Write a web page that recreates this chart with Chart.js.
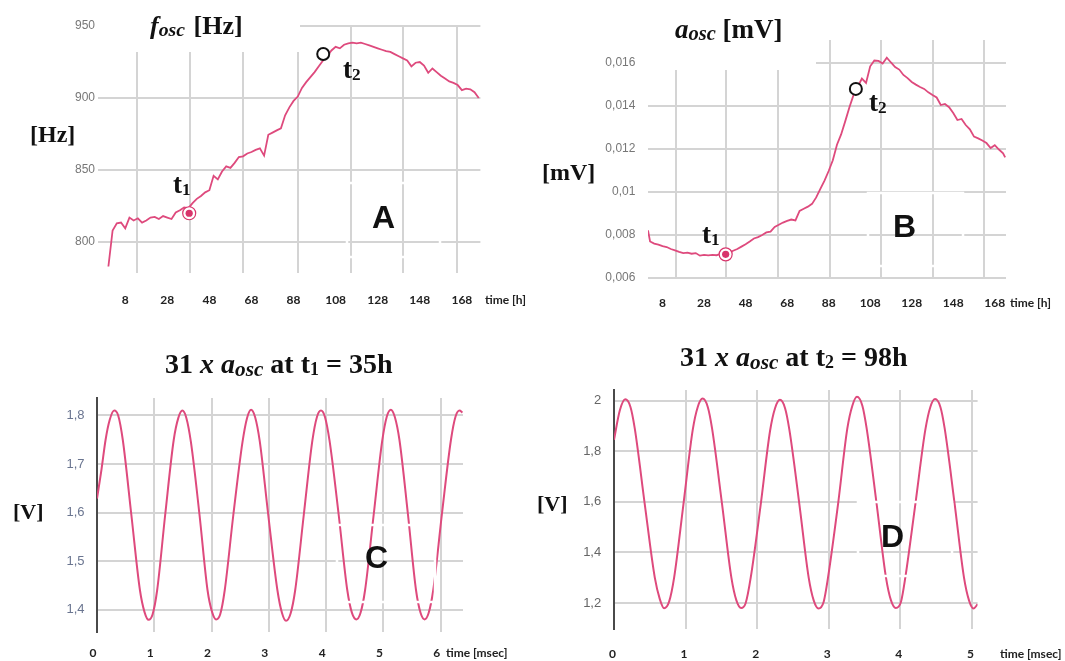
<!DOCTYPE html>
<html>
<head>
<meta charset="utf-8">
<title>Oscillator drift</title>
<script src="https://cdn.jsdelivr.net/npm/chart.js@4.4.1/dist/chart.umd.min.js"></script>
<style>
  body { margin:0; background:#fff; }
  #page { position:relative; width:1065px; height:661px; overflow:hidden; background:#fff; }
  canvas { position:absolute; }
  .lbl { position:absolute; white-space:nowrap; line-height:1; font-family:"Liberation Serif","Times New Roman",serif; font-weight:bold; color:#111; z-index:2; }
  .lbl sub { font-size:0.76em; vertical-align:-0.12em; line-height:0; }
  .lbl sub.n { font-size:0.64em; vertical-align:-0.1em; }
  .tag { position:absolute; line-height:1; font-family:"Liberation Sans",Arial,sans-serif; font-weight:bold; font-size:32px; color:#111; z-index:2; }
  .unit { position:absolute; white-space:nowrap; line-height:14px; font-family:Lato,"Liberation Sans",sans-serif; font-weight:bold; font-size:12px; color:#222; z-index:2; }
</style>
</head>
<body>
<div id="page">
  <canvas id="chartA" width="530" height="320" style="left:0;top:0"></canvas>
  <canvas id="chartB" width="535" height="320" style="left:530px;top:0"></canvas>
  <canvas id="chartC" width="530" height="331" style="left:0;top:330px"></canvas>
  <canvas id="chartD" width="535" height="331" style="left:530px;top:330px"></canvas>

  <!-- panel A -->
  <div class="lbl" style="left:150px;top:13px;font-size:26px"><i>f</i><sub><i>osc</i></sub> <span style="margin-left:2px">[Hz]</span></div>
  <div class="lbl" style="left:30px;top:122px;font-size:24px">[Hz]</div>
  <div class="lbl" style="left:173px;top:171px;font-size:27px">t<sub class="n">1</sub></div>
  <div class="lbl" style="left:343px;top:56px;font-size:27px">t<sub class="n">2</sub></div>
  <div class="tag" style="left:372px;top:201px">A</div>
  <div class="unit" style="left:485px;top:293px">time [h]</div>

  <!-- panel B -->
  <div class="lbl" style="left:675px;top:16px;font-size:27px"><i>a</i><sub><i>osc</i></sub> [mV]</div>
  <div class="lbl" style="left:542px;top:160px;font-size:24px">[mV]</div>
  <div class="lbl" style="left:702px;top:221px;font-size:27px">t<sub class="n">1</sub></div>
  <div class="lbl" style="left:869px;top:89px;font-size:27px">t<sub class="n">2</sub></div>
  <div class="tag" style="left:893px;top:210px">B</div>
  <div class="unit" style="left:1010px;top:296px">time [h]</div>

  <!-- panel C -->
  <div class="lbl" style="left:165px;top:350px;font-size:28px">31 <i>x</i> <i>a</i><sub><i>osc</i></sub> at t<sub class="n">1</sub> = 35h</div>
  <div class="lbl" style="left:13px;top:501px;font-size:22px">[V]</div>
  <div class="tag" style="left:365px;top:541px">C</div>
  <div class="unit" style="left:446px;top:646px">time [msec]</div>

  <!-- panel D -->
  <div class="lbl" style="left:680px;top:343px;font-size:28px">31 <i>x</i> <i>a</i><sub><i>osc</i></sub> at t<sub class="n">2</sub> = 98h</div>
  <div class="lbl" style="left:537px;top:493px;font-size:22px">[V]</div>
  <div class="tag" style="left:881px;top:520px">D</div>
  <div class="unit" style="left:1000px;top:647px">time [msec]</div>
</div>

<script>
// ---------- data ----------
// oscillation frequency over time (h -> Hz)
const aHours = [0,2,4,6,8,10,12,14,16,18,20,22,24,26,28,30,32,34,36,38,40,42,44,46,48,50,52,54,56,58,
  60,62,64,66,68,70,72,74,76,78,80,82,84,86,88,90,92,94,96,98,100,102,104,106,108,110,112,114,116,118,
  120,122,124,126,128,130,132,134,136,138,140,142,144,146,148,150,152,154,156,158,160,162,164,166,168,170,172,174,176];
const aFreq = [783,808,813,813.5,809.5,817,815,816.5,813.5,815,
  817,817.5,816,818,817,816,820.5,822,824,823.5,
  827,830,832,834.5,836,846,843.5,849,852.5,851.5,
  855,859,859.5,861.5,862.5,864,865,860,874.5,876,
  877.5,879,888,893.5,898,901,907,911,914.5,918,
  922,926,929,933,935.5,934.5,937,938,938.5,938,
  938.5,937.5,936.5,935.5,934.5,933.5,932.5,932,930.5,929,
  927.5,926,922,924.5,925,922.5,917.5,920.5,918,915.5,
  913.5,911.5,910.5,909,905.5,906.5,906,904,900];
const aMarkHours = [38.4, 102.1];   // t1, t2
const aMarkFreq = [820, 930.6];

// oscillation amplitude over time (h -> mV)
const bHours = [1,2,4,6,8,10,12,14,16,18,20,22,24,26,28,30,32,34,36,38,40,42,44,46,48,50,52,54,56,58,
  60,62,64,66,68,70,72,74,76,78,80,82,84,86,88,90,92,94,96,98,100,102,104,106,108,110,112,114,116,118,
  120,122,124,126,128,130,132,134,136,138,140,142,144,146,148,150,152,154,156,158,160,162,164,166,168,170,172,173];
const bAmp = [0.00822,0.00770,
  0.00760,0.00755,0.00748,0.00744,0.00735,0.00729,0.00722,0.00716,0.00718,0.00713,
  0.00716,0.00704,0.00708,0.00705,0.00708,0.00706,0.00712,0.00710,0.00718,0.00727,
  0.00735,0.00746,0.00757,0.00770,0.00784,0.00790,0.00800,0.00812,0.00816,0.00838,
  0.00848,0.00858,0.00866,0.00872,0.00868,0.00912,0.00922,0.00932,0.00945,0.00975,
  0.01015,0.01053,0.01098,0.01148,0.01220,0.01268,0.01330,0.01395,0.01452,0.01490,
  0.01528,0.01508,0.01585,0.01612,0.01610,0.01598,0.01625,0.01603,0.01582,0.01570,
  0.01545,0.01530,0.01512,0.01500,0.01489,0.01480,0.01464,0.01452,0.01440,0.01405,
  0.01410,0.01395,0.01368,0.01335,0.01340,0.01312,0.01292,0.01258,0.01250,0.01240,
  0.01228,0.01205,0.01218,0.01198,0.01180,
  0.01161];
const bMarkHours = [38.4, 101.1];
const bMarkAmp = [0.0071, 0.0148];

// waveform at t1 (ms -> V)
const cTime = [0,0.08,0.15,0.22,0.30,0.37,0.45,0.60,0.75,0.83,0.90,0.97,1.05,1.19,1.34,1.42,1.49,1.56,1.64,
  1.79,1.93,2.01,2.08,2.15,2.23,2.38,2.54,2.62,2.69,2.76,2.84,2.99,3.15,3.23,3.30,3.38,3.46,3.61,3.76,3.84,
  3.91,3.98,4.06,4.22,4.37,4.45,4.53,4.60,4.68,4.83,4.98,5.06,5.13,5.20,5.28,5.43,5.57,5.65,5.72,5.79,5.87,
  6.02,6.18,6.26,6.33,6.38];
const cVolt = [1.629,1.69,1.75,1.79,1.81,1.80,1.75,1.595,1.44,1.395,1.379,1.39,1.44,1.595,1.75,1.795,1.81,1.795,1.745,
  1.595,1.44,1.395,1.38,1.39,1.44,1.595,1.745,1.795,1.812,1.797,1.748,1.595,1.44,1.393,1.377,1.392,1.44,1.595,1.748,1.797,
  1.81,1.797,1.748,1.595,1.44,1.394,1.38,1.393,1.44,1.595,1.748,1.798,1.812,1.797,1.75,1.595,1.44,1.393,1.38,1.393,1.44,
  1.595,1.75,1.798,1.81,1.806];

// waveform at t2 (ms -> V)
const dTime = [0,0.08,0.157,0.23,0.29,0.43,0.57,0.64,0.70,0.77,0.84,0.97,1.10,1.17,1.238,1.31,1.37,1.51,1.64,1.71,
  1.776,1.84,1.91,2.05,2.18,2.25,2.319,2.39,2.45,2.59,2.72,2.79,2.857,2.93,2.99,3.13,3.26,3.33,3.395,3.47,3.53,
  3.67,3.80,3.87,3.937,4.01,4.07,4.21,4.35,4.42,4.486,4.56,4.62,4.76,4.89,4.96,5.023,5.08];
const dVolt = [1.845,1.96,2.005,1.975,1.89,1.59,1.30,1.215,1.179,1.205,1.30,1.59,1.884,1.975,2.008,1.975,1.89,1.59,1.30,1.21,
  1.18,1.20,1.30,1.59,1.88,1.97,2.003,1.97,1.885,1.59,1.30,1.21,1.178,1.205,1.30,1.59,1.89,1.98,2.015,1.98,1.89,
  1.59,1.30,1.21,1.18,1.205,1.30,1.59,1.885,1.975,2.006,1.975,1.89,1.59,1.30,1.21,1.178,1.195];

// ---------- axes ----------
const hourLabels = [8,28,48,68,88,108,128,148,168];
const aGridHours = [13.7,38.7,64,89.9,115.2,140.2,165.6];
const bGridHours = [14.5,38.7,63.4,88.8,113.4,138.1,162.7];
const aYTicks = [800,850,900,950];
const aYLabels = ['800','850','900','950'];
const bYTicks = [0.006,0.008,0.010,0.012,0.014,0.016];
const bYLabels = ['0,006','0,008','0,01','0,012','0,014','0,016'];
const cXTicks = [0,1,2,3,4,5,6];
const cYTicks = [1.4,1.5,1.6,1.7,1.8];
const cYLabels = ['1,4','1,5','1,6','1,7','1,8'];
const dXTicks = [0,1,2,3,4,5];
const dYTicks = [1.2,1.4,1.6,1.8,2.0];
const dYLabels = ['1,2','1,4','1,6','1,8','2'];

const PINK = '#de4a7d';
const PINK_DOT = '#d8346b';
const GRID = '#d4d4d4';

/* white fills (under the curve) and white frames (over it), in canvas pixels */
const patchPlugin = {
  id: 'patches',
  beforeDatasetsDraw(chart, args, opts) {
    const ctx = chart.ctx;
    ctx.save();
    ctx.fillStyle = '#fff';
    (opts.fills || []).forEach(r => ctx.fillRect(r[0], r[1], r[2], r[3]));
    ctx.restore();
  },
  afterDatasetsDraw(chart, args, opts) {
    const ctx = chart.ctx;
    ctx.save();
    ctx.strokeStyle = '#fff';
    ctx.lineWidth = 2.5;
    (opts.boxes || []).forEach(r => ctx.strokeRect(r[0], r[1], r[2], r[3]));
    ctx.restore();
  }
};

function pts(xs, ys){ return xs.map((x,i) => ({x:x, y:ys[i]})); }

function curve(xs, ys, width, smooth){
  return { data: pts(xs, ys), borderColor: PINK, borderWidth: width, pointRadius: 0,
    tension: 0, cubicInterpolationMode: smooth ? 'monotone' : 'default', order: 5 };
}

function ring(x, y){
  return { data: [{x:x, y:y}], showLine:false, pointRadius:6.5, pointBackgroundColor:'#fff',
    pointBorderColor: PINK_DOT, pointBorderWidth:1.2, order:2 };
}
function dot(x, y){
  return { data: [{x:x, y:y}], showLine:false, pointRadius:3.6, pointBackgroundColor: PINK_DOT,
    pointBorderColor: PINK_DOT, pointBorderWidth:0, order:1 };
}
function hollow(x, y){
  return { data: [{x:x, y:y}], showLine:false, pointRadius:6, pointBackgroundColor:'#fff',
    pointBorderColor:'#111', pointBorderWidth:2, order:1 };
}

function panel(o){
  const xTicks = [...new Set([...o.xLabelAt, ...o.xGridAt])].sort((a,b) => a-b);
  return new Chart(document.getElementById(o.id), {
    type: 'line',
    data: { datasets: o.datasets },
    options: {
      responsive: false,
      animation: false,
      events: [],
      layout: { padding: { left:0, top:o.area.top, right:o.area.right, bottom:0 } },
      plugins: {
        legend: { display:false },
        tooltip: { enabled:false },
        patches: { fills: o.fills || [], boxes: o.boxes || [] }
      },
      scales: {
        x: {
          type: 'linear', min: o.xMin, max: o.xMax, bounds: 'data',
          afterBuildTicks: s => { s.ticks = xTicks.map(v => ({value:v})); },
          afterFit: s => { s.height = o.area.xh; },
          grid: { color: c => (c.tick && o.xGridAt.includes(c.tick.value)) ? GRID : 'rgba(0,0,0,0)', lineWidth:2, drawTicks:false },
          border: { display:false },
          ticks: { autoSkip:false, maxRotation:0, minRotation:0, padding:o.xPad, labelOffset:o.xShift || 0,
            color:'#222', font:{ family:'Lato', weight:'bold', size:12 },
            callback: v => o.xLabelAt.includes(v) ? String(v) : '' }
        },
        y: {
          type: 'linear', min: o.yMin, max: o.yMax, bounds: 'data',
          afterBuildTicks: s => { s.ticks = o.yTicks.map(v => ({value:v})); },
          afterFit: s => { s.width = o.area.left; },
          grid: { color: GRID, lineWidth:2, drawTicks:false },
          border: o.yLine ? { display:true, color:'#4a4a4a', width:2 } : { display:false },
          ticks: { padding:o.yPad, color:o.yColor, font:{ family:'Liberation Sans', size:o.ySize },
            callback: (v, i) => o.yLabels[i] }
        }
      }
    },
    plugins: [patchPlugin]
  });
}

// A: frequency
panel({
  id: 'chartA',
  area: { left:98, top:26, right:49.6, xh:47 },
  xMin: -4.94, xMax: 176.8, xLabelAt: hourLabels, xGridAt: aGridHours, xPad: 20,
  yMin: 778.5, yMax: 950, yTicks: aYTicks, yLabels: aYLabels, yPad: 3, yColor:'#777', ySize: 12,
  fills: [[96, 16, 204, 36]],
  boxes: [[347, 183, 93, 74]],
  datasets: [
    hollow(aMarkHours[1], aMarkFreq[1]),
    dot(aMarkHours[0], aMarkFreq[0]),
    ring(aMarkHours[0], aMarkFreq[0]),
    curve(aHours, aFreq, 1.8, false)
  ]
});

// B: amplitude
panel({
  id: 'chartB',
  area: { left:118, top:40, right:59, xh:42 },
  xMin: 1.0, xMax: 173.4, xLabelAt: hourLabels, xGridAt: bGridHours, xPad: 18,
  yMin: 0.006, yMax: 0.017076, yTicks: bYTicks, yLabels: bYLabels, yPad: 12.6, yColor:'#777', ySize: 12,
  fills: [[116, 34, 170, 36]],
  boxes: [[338, 193, 95, 73]],
  datasets: [
    hollow(bMarkHours[1], bMarkAmp[1]),
    dot(bMarkHours[0], bMarkAmp[0]),
    ring(bMarkHours[0], bMarkAmp[0]),
    curve(bHours, bAmp, 1.8, false)
  ]
});

// C: waveform at t1
panel({
  id: 'chartC',
  area: { left:97, top:68, right:67, xh:29 },
  xMin: 0, xMax: 6.39, xLabelAt: cXTicks, xGridAt: cXTicks, xPad: 14, xShift: -4,
  yMin: 1.354, yMax: 1.836, yTicks: cYTicks, yLabels: cYLabels, yPad: 12.5, yColor:'#6a7590', ySize: 13, yLine: true,
  boxes: [[337, 195, 98, 77]],
  datasets: [ curve(cTime, cVolt, 2, true) ]
});

// D: waveform at t2
panel({
  id: 'chartD',
  area: { left:84, top:60, right:87.4, xh:32 },
  xMin: 0, xMax: 5.08, xLabelAt: dXTicks, xGridAt: dXTicks, xPad: 17.6, xShift: -1.5,
  yMin: 1.097, yMax: 2.042, yTicks: dYTicks, yLabels: dYLabels, yPad: 12.8, yColor:'#666', ySize: 13, yLine: true,
  boxes: [[328, 172, 94, 74]],
  datasets: [ curve(dTime, dVolt, 2, true) ]
});
</script>
</body>
</html>
